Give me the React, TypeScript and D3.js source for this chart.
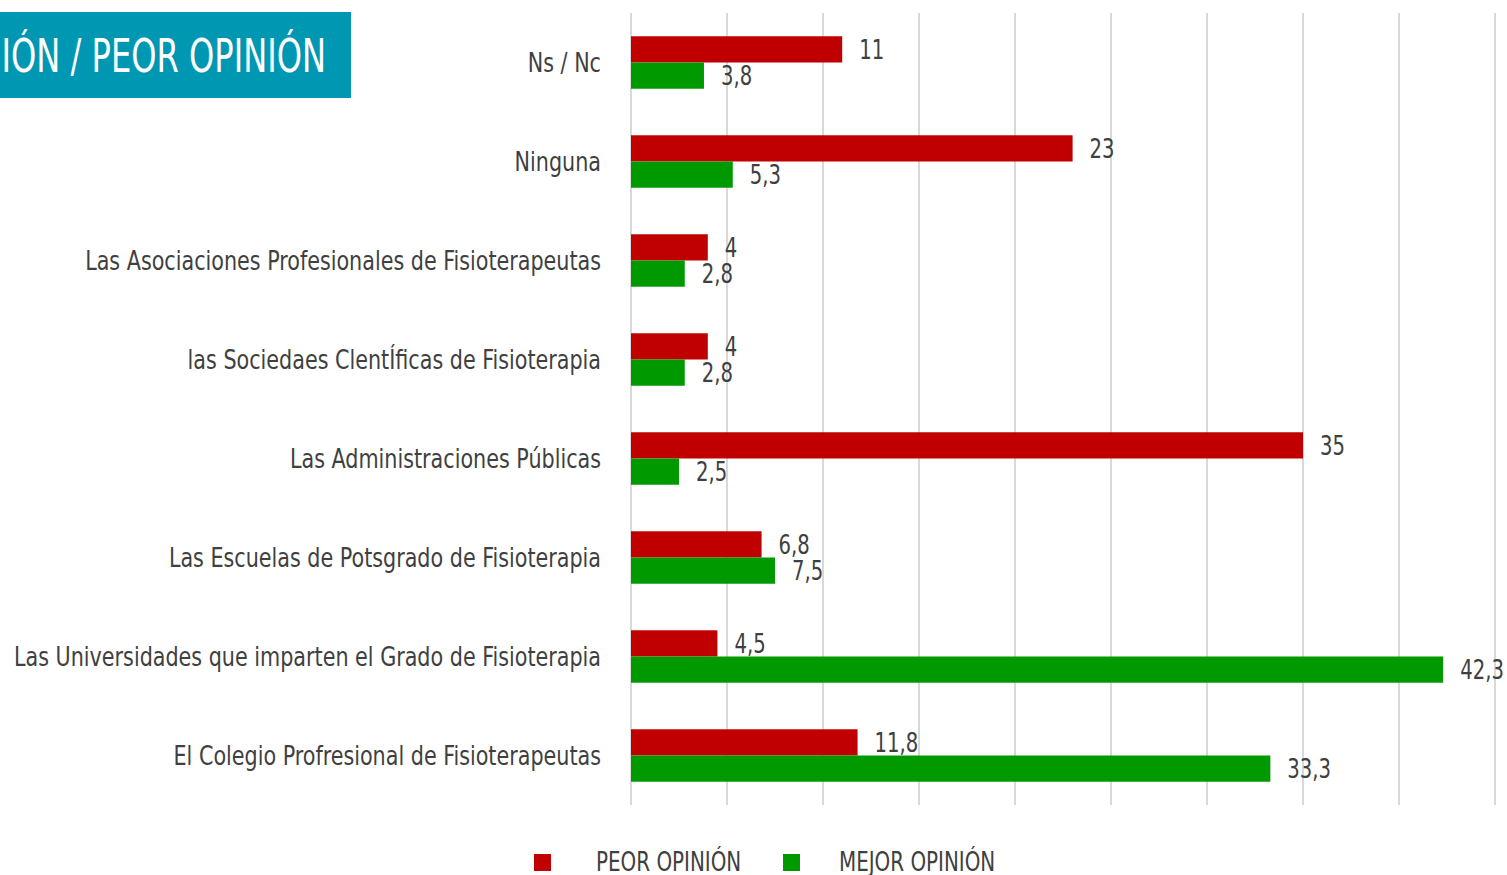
import React, { useRef, useEffect } from 'react';
import * as d3 from 'd3';

const categories = [
  'Ns / Nc',
  'Ninguna',
  'Las Asociaciones Profesionales de Fisioterapeutas',
  'las Sociedaes ClentÍficas de Fisioterapia',
  'Las Administraciones Públicas',
  'Las Escuelas de Potsgrado de Fisioterapia',
  'Las Universidades que imparten el Grado de Fisioterapia',
  'El Colegio Profresional de Fisioterapeutas',
];
const peorValues = [11, 23, 4, 4, 35, 6.8, 4.5, 11.8];
const mejorValues = [3.8, 5.3, 2.8, 2.8, 2.5, 7.5, 42.3, 33.3];
const seriesNames = ['PEOR OPINIÓN', 'MEJOR OPINIÓN'];
const seriesColors = ['#C00000', '#009900'];
const xTicks = d3.range(0, 46, 5);

const FONT = "'Liberation Sans Narrow', 'DejaVu Sans Condensed', sans-serif";
const fmt = (v: number) => String(v).replace('.', ',');
// the reference face is very narrow, so squeeze the condensed one a bit
const squeeze = (px: number, py: number, sx: number) => `translate(${px},${py}) scale(${sx},1)`;

const App = () => {
  const svgRef = useRef<SVGSVGElement>(null);

  useEffect(() => {
    const svg = d3.select(svgRef.current);
    svg.selectAll('*').remove();

    const x = d3.scaleLinear().domain([0, 45]).range([631, 1495]);
    const y = d3.scaleBand<string>().domain(categories).range([13, 805]).paddingInner(0.47).paddingOuter(0.235);
    const inner = d3.scaleBand<number>().domain([0, 1]).range([0, y.bandwidth()]);

    // gridlines
    svg.append('g')
      .selectAll('line')
      .data(xTicks)
      .enter().append('line')
      .attr('x1', d => x(d)).attr('x2', d => x(d))
      .attr('y1', 13).attr('y2', 805)
      .attr('stroke', '#d9d9d9')
      .attr('stroke-width', 2);

    // category labels
    svg.append('g')
      .selectAll('text')
      .data(categories)
      .enter().append('text')
      .attr('transform', d => squeeze(601, (y(d) as number) + y.bandwidth() / 2, 0.885))
      .attr('dy', '0.36em')
      .attr('text-anchor', 'end')
      .style('font-family', FONT)
      .style('font-size', '26px')
      .style('fill', '#404040')
      .text(d => d);

    const series = [peorValues, mejorValues];
    series.forEach((vals, si) => {
      const g = svg.append('g');
      g.selectAll('rect')
        .data(vals)
        .enter().append('rect')
        .attr('x', x(0))
        .attr('y', (d, i) => (y(categories[i]) as number) + (inner(si) as number))
        .attr('width', d => x(d) - x(0))
        .attr('height', inner.bandwidth())
        .attr('fill', seriesColors[si]);

      g.selectAll('text')
        .data(vals)
        .enter().append('text')
        .attr('transform', (d, i) =>
          squeeze(x(d) + 17, (y(categories[i]) as number) + (inner(si) as number) + inner.bandwidth() / 2, 0.84))
        .attr('dy', '0.38em')
        .style('font-family', FONT)
        .style('font-size', '26px')
        .style('fill', '#404040')
        .text(d => fmt(d));
    });

    // title box, its text runs off the left edge as in the source slide
    svg.append('rect')
      .attr('x', 0).attr('y', 12)
      .attr('width', 351).attr('height', 86)
      .attr('fill', '#0097B3');
    svg.append('text')
      .attr('transform', squeeze(326, 55, 0.76))
      .attr('dy', '0.36em')
      .attr('text-anchor', 'end')
      .style('font-family', FONT)
      .style('font-size', '47px')
      .style('fill', '#ffffff')
      .text('MEJOR OPINIÓN / PEOR OPINIÓN');

    // legend
    const legendX = [534, 783];
    const legendTextX = [596, 839];
    const legend = svg.append('g');
    seriesNames.forEach((name, i) => {
      legend.append('rect')
        .attr('x', legendX[i]).attr('y', 854)
        .attr('width', 17).attr('height', 17)
        .attr('fill', seriesColors[i]);
      legend.append('text')
        .attr('transform', squeeze(legendTextX[i], 861, 0.82))
        .attr('dy', '0.36em')
        .style('font-family', FONT)
        .style('font-size', '27px')
        .style('fill', '#404040')
        .text(name);
    });
  }, []);

  return (
    <svg
      ref={svgRef}
      width={1507}
      height={875}
      style={{ position: 'absolute', left: 0, top: 0, background: '#ffffff' }}
    />
  );
};

export default App;
